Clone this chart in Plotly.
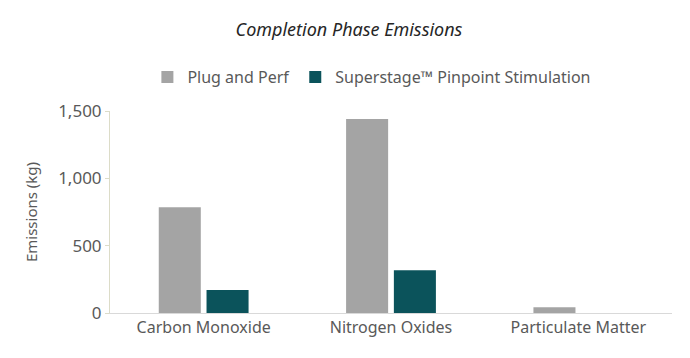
import plotly.graph_objects as go

categories = ["Carbon Monoxide", "Nitrogen Oxides", "Particulate Matter"]
plug_and_perf = [785, 1440, 42]
superstage = [171, 317, 0]
series_names = ["Plug and Perf", "Superstage\u2122 Pinpoint Stimulation"]
y_ticks = [0, 500, 1000, 1500]

FONT = "Noto Sans"
TXT = "#595959"

fig = go.Figure()
fig.add_trace(go.Bar(x=categories, y=plug_and_perf, name=series_names[0],
                     marker=dict(color="#a4a4a4", line=dict(width=0))))
fig.add_trace(go.Bar(x=categories, y=superstage, name=series_names[1],
                     marker=dict(color="#0b535b", line=dict(width=0))))

# page body has an 8px margin, so the figure is sized to fit the window
W, H = 682, 350
fig.update_layout(
    width=W, height=H,
    margin=dict(l=102, r=18, t=103, b=45, autoexpand=False),
    paper_bgcolor="white", plot_bgcolor="white",
    barmode="group", bargap=0.49, bargroupgap=0.12,
    font=dict(family=FONT, color=TXT, size=15),
    title=dict(text="<i>Completion Phase Emissions</i>", x=0.5, xref="container",
               y=1 - 22 / H, yref="container", xanchor="center", yanchor="middle",
               font=dict(family=FONT, size=18, color="#262626")),
    legend=dict(orientation="h", xref="paper", yref="paper",
                x=0.466, y=(305 - 69) / 202, xanchor="center", yanchor="middle",
                font=dict(family=FONT, size=16, color=TXT),
                itemwidth=30, traceorder="normal"),
    showlegend=True,
)
fig.update_xaxes(showline=True, linecolor="#d9d9d9", linewidth=1, ticks="",
                 tickfont=dict(size=16, color=TXT), showgrid=False, automargin=False)
fig.update_yaxes(range=[0, 1500], tickvals=y_ticks, tickformat=",d",
                 showline=True, linecolor="#dcdcc8", linewidth=1,
                 ticks="outside", ticklen=4, tickcolor="#dcdcc8",
                 showgrid=False, zeroline=False, automargin=False,
                 tickfont=dict(size=17, color=TXT),
                 title=dict(text="Emissions (kg)", font=dict(size=15, color=TXT), standoff=16))

fig.write_html("out.html")
